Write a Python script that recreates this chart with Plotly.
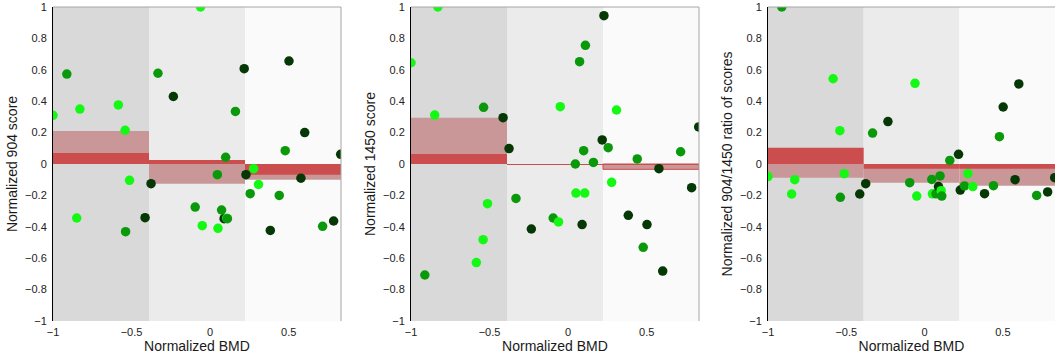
import plotly.graph_objects as go

# ---------------- data ----------------
bmd = [-1.0, -0.912, -0.849, -0.829, -0.584, -0.541, -0.538, -0.513, -0.414, -0.376,
       -0.332, -0.234, -0.095, -0.061, -0.05, 0.046, 0.05, 0.073, 0.089, 0.099,
       0.106, 0.11, 0.161, 0.217, 0.228, 0.255, 0.277, 0.308, 0.383, 0.44,
       0.478, 0.502, 0.578, 0.602, 0.716, 0.786, 0.831]
group = ['B', 'M', 'B', 'B', 'B', 'B', 'M', 'B', 'D', 'D',
         'M', 'D', 'M', 'B', 'B', 'M', 'B', 'M', 'D', 'M',
         'B', 'M', 'M', 'D', 'D', 'M', 'B', 'B', 'D', 'M',
         'M', 'D', 'D', 'D', 'M', 'D', 'D']
score_904 = [0.31, 0.573, -0.344, 0.35, 0.376, 0.215, -0.431, -0.104, -0.342, -0.125,
             0.578, 0.43, -0.274, 1.0, -0.393, -0.068, -0.41, -0.293, -0.348, 0.043,
             -0.345, -0.348, 0.335, 0.607, -0.068, -0.189, -0.03, -0.13, -0.423, -0.2,
             0.085, 0.656, -0.09, 0.2, -0.397, -0.363, 0.062]
score_1450 = [0.645, -0.707, 0.312, 1.0, -0.628, -0.482, 0.361, -0.253, 0.295, 0.098,
              -0.219, -0.414, -0.344, -0.369, 0.365, 0.0, -0.185, 0.652, -0.386, 0.085,
              -0.185, 0.756, 0.01, 0.153, 0.945, 0.104, -0.117, 0.344, -0.327, 0.032,
              -0.531, -0.386, -0.03, -0.682, 0.078, -0.151, 0.236]
score_ratio = [-0.08, 1.0, -0.191, -0.10, 0.543, 0.212, -0.212, -0.062, -0.191, -0.125,
               0.197, 0.27, -0.119, 0.514, -0.204, -0.098, -0.19, -0.19, -0.144, -0.076,
               -0.17, -0.204, 0.023, 0.062, -0.166, -0.14, -0.062, -0.144, -0.189, -0.138,
               0.174, 0.363, -0.10, 0.51, -0.2, -0.178, -0.087]

bin_edges = [-1.0, -0.389, 0.222, 0.833]
bar_dark = [[0.07, 0.025, -0.068], [0.064, -0.004, -0.003], [0.104, -0.03, -0.03]]
bar_light = [[0.21, -0.125, -0.1], [0.295, -0.006, -0.034], [-0.087, -0.12, -0.138]]
light_edge = [[0, 0, 0], [0, 0, 1], [0, 0, 0]]

y_titles = ["Normalized 904 score", "Normalized 1450 score",
            "Normalized 904/1450 ratio of scores"]
y_ticks = [-1, -0.8, -0.6, -0.4, -0.2, 0, 0.2, 0.4, 0.6, 0.8, 1]
x_ticks = [-1, -0.5, 0, 0.5]

# ---------------- style ----------------
group_colors = {'B': '#14f914', 'M': '#0a990a', 'D': '#053805'}
bg_colors = ['#d9d9d9', '#ebebeb', '#fafafa']
dark_red = '#cc4d4d'
light_red = '#c99797'
font = "Liberation Sans, Arial, sans-serif"

W, H = 1055, 358
ml, mr, mt, mb = 53, 0, 7, 37
pw = W - ml - mr
px_domains = [(0, 288), (358, 646), (715, 1002)]
domains = [(a / pw, min(b / pw, 1.0)) for a, b in px_domains]

fig = go.Figure()
series = [score_904, score_1450, score_ratio]
centers = [(bin_edges[i] + bin_edges[i + 1]) / 2 for i in range(3)]
widths = [bin_edges[i + 1] - bin_edges[i] for i in range(3)]
pt_colors = [group_colors[g] for g in group]

shapes = []
for k in range(3):
    xa = 'x' if k == 0 else f'x{k+1}'
    ya = 'y' if k == 0 else f'y{k+1}'
    for i in range(3):
        shapes.append(dict(type='rect', xref=xa, yref=f'{ya} domain',
                           x0=bin_edges[i], x1=bin_edges[i + 1], y0=0, y1=1,
                           fillcolor=bg_colors[i], line_width=0, layer='below'))
    # top border
    shapes.append(dict(type='line', xref=f'{xa} domain', yref=f'{ya} domain',
                       x0=0, x1=1, y0=1, y1=1, line=dict(color='#a6a6a6', width=1)))
    if k < 2:
        shapes.append(dict(type='line', xref=f'{xa} domain', yref=f'{ya} domain',
                           x0=1, x1=1, y0=0, y1=1, line=dict(color='#a6a6a6', width=1)))
    fig.add_trace(go.Bar(x=centers, y=bar_light[k], width=widths, base=0,
                         marker=dict(color=light_red,
                                     line=dict(color=dark_red, width=light_edge[k])),
                         xaxis=xa, yaxis=ya, showlegend=False, hoverinfo='skip'))
    fig.add_trace(go.Bar(x=centers, y=bar_dark[k], width=widths, base=0,
                         marker=dict(color=dark_red, line=dict(width=0)),
                         xaxis=xa, yaxis=ya, showlegend=False, hoverinfo='skip'))
    fig.add_trace(go.Scatter(x=bmd, y=series[k], mode='markers',
                             marker=dict(size=9.5, color=pt_colors, line=dict(width=0)),
                             xaxis=xa, yaxis=ya, showlegend=False))

layout = dict(width=W, height=H, margin=dict(l=ml, r=mr, t=mt, b=mb),
              paper_bgcolor='white', plot_bgcolor='white', barmode='overlay',
              font=dict(family=font, color='#222222', size=11), shapes=shapes)
for k in range(3):
    xn = 'xaxis' if k == 0 else f'xaxis{k+1}'
    yn = 'yaxis' if k == 0 else f'yaxis{k+1}'
    ya = 'y' if k == 0 else f'y{k+1}'
    xa = 'x' if k == 0 else f'x{k+1}'
    layout[xn] = dict(domain=list(domains[k]), range=[bin_edges[0], bin_edges[-1]],
                      anchor=ya, tickvals=x_ticks, ticks='', showgrid=False,
                      zeroline=False, showline=False, ticklabelstandoff=3,
                      tickfont=dict(size=11, family=font, color='#222222'),
                      title=dict(text='Normalized BMD', standoff=4,
                                 font=dict(size=14, family=font, color='#1a1a1a')))
    layout[yn] = dict(domain=[0, 1], range=[-1, 1], anchor=xa, tickvals=y_ticks,
                      ticks='', showgrid=False, zeroline=False, showline=True,
                      linecolor='black', linewidth=1, ticklabelstandoff=3,
                      tickfont=dict(size=11, family=font, color='#222222'),
                      title=dict(text=y_titles[k], standoff=4,
                                 font=dict(size=14, family=font, color='#1a1a1a')))
fig.update_layout(**layout)
fig.write_html("out.html")
